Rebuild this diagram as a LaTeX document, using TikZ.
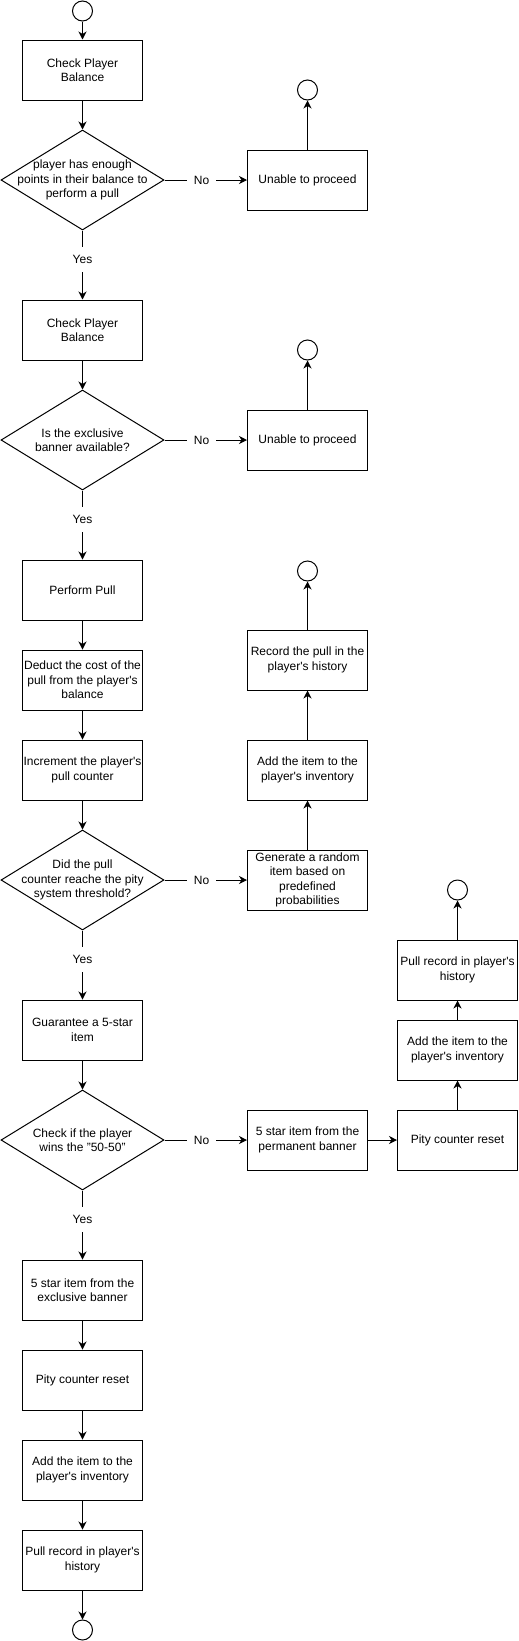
\documentclass[tikz,border=0pt]{standalone}
\usepackage{fontspec}
\setmainfont{Liberation Sans}
\usetikzlibrary{arrows.meta,shapes.geometric}
\def\ap{\textquotesingle}
\tikzset{
	box/.style={draw, line width=1pt, minimum width=120pt, minimum height=60pt, inner sep=1pt, align=center, font=\fontsize{12}{14.5}\selectfont},
	dec/.style={draw, line width=1pt, diamond, minimum width=163pt, minimum height=100pt, inner sep=0pt},
	dectxt/.style={align=center, inner sep=0pt, font=\fontsize{12}{14.5}\selectfont},
	term/.style={draw, line width=1pt, circle, minimum size=20pt, inner sep=0pt},
	flow/.style={line width=1pt, -{Stealth[length=8pt,width=8pt,inset=2.5pt]}},
	lbl/.style={fill=white, inner xsep=7pt, inner ysep=8pt, font=\fontsize{12}{14.5}\selectfont}
}

\begin{document}
\begin{tikzpicture}[x=1pt, y=-1pt]
		%%%%% START %%%%%
		\useasboundingbox (0, 0) rectangle (519, 1641);
		
		% main column
		\node[term] (s0) at (82.5, 11) {};
		\node[box] (b1) at (82.5, 70) {Check Player\\Balance};
		\node[dec, label={[dectxt]center:{player has enough\\points in their balance to\\perform a pull}}] (d1) at (82.5, 180) {};
		\node[box] (b2) at (82.5, 330) {Check Player\\Balance};
		\node[dec, label={[dectxt]center:{Is the exclusive\\banner available?}}] (d2) at (82.5, 440) {};
		\node[box] (b3) at (82.5, 590) {Perform Pull};
		\node[box] (b4) at (82.5, 680) {Deduct the cost of the\\pull from the player\ap s\\balance};
		\node[box] (b5) at (82.5, 770) {Increment the player\ap s\\pull counter};
		\node[dec, label={[dectxt]center:{Did the pull\\counter reache the pity\\system threshold?}}] (d3) at (82.5, 880) {};
		\node[box] (b6) at (82.5, 1030) {Guarantee a 5-star\\item};
		\node[dec, label={[dectxt]center:{Check if the player\\wins the "50-50"}}] (d4) at (82.5, 1140) {};
		\node[box] (b7) at (82.5, 1290) {5 star item from the\\exclusive banner};
		\node[box] (b8) at (82.5, 1380) {Pity counter reset};
		\node[box] (b9) at (82.5, 1470) {Add the item to the\\player\ap s inventory};
		\node[box] (b10) at (82.5, 1560) {Pull record in player\ap s\\history};
		\node[term] (e5) at (82.5, 1630) {};
		
		% second column
		\node[box] (u1) at (307.5, 180) {Unable to proceed};
		\node[term] (e1) at (307.5, 90) {};
		\node[box] (u2) at (307.5, 440) {Unable to proceed};
		\node[term] (e2) at (307.5, 350) {};
		\node[box] (g1) at (307.5, 880) {Generate a random\\item based on\\predefined\\probabilities};
		\node[box] (a1) at (307.5, 770) {Add the item to the\\player\ap s inventory};
		\node[box] (r1) at (307.5, 660) {Record the pull in the\\player\ap s history};
		\node[term] (e3) at (307.5, 571) {};
		\node[box] (p5) at (307.5, 1140) {5 star item from the\\permanent banner};
		
		% third column
		\node[box] (pr) at (457.5, 1140) {Pity counter reset};
		\node[box] (ar) at (457.5, 1050) {Add the item to the\\player\ap s inventory};
		\node[box] (hr) at (457.5, 970) {Pull record in player\ap s\\history};
		\node[term] (e4) at (457.5, 890) {};
		
		% connectors
		\draw[flow] (s0) -- (b1);
		\draw[flow] (b1) -- (d1);
		\draw[flow] (d1.east) -- node[lbl, pos=0.45] {No} (u1);
		\draw[flow] (u1) -- (e1);
		\draw[flow] (d1.south) -- node[lbl, pos=0.42] {Yes} (b2);
		\draw[flow] (b2) -- (d2);
		\draw[flow] (d2.east) -- node[lbl, pos=0.45] {No} (u2);
		\draw[flow] (u2) -- (e2);
		\draw[flow] (d2.south) -- node[lbl, pos=0.42] {Yes} (b3);
		\draw[flow] (b3) -- (b4);
		\draw[flow] (b4) -- (b5);
		\draw[flow] (b5) -- (d3);
		\draw[flow] (d3.east) -- node[lbl, pos=0.45] {No} (g1);
		\draw[flow] (g1) -- (a1);
		\draw[flow] (a1) -- (r1);
		\draw[flow] (r1) -- (e3);
		\draw[flow] (d3.south) -- node[lbl, pos=0.42] {Yes} (b6);
		\draw[flow] (b6) -- (d4);
		\draw[flow] (d4.east) -- node[lbl, pos=0.45] {No} (p5);
		\draw[flow] (p5) -- (pr);
		\draw[flow] (pr) -- (ar);
		\draw[flow] (ar) -- (hr);
		\draw[flow] (hr) -- (e4);
		\draw[flow] (d4.south) -- node[lbl, pos=0.42] {Yes} (b7);
		\draw[flow] (b7) -- (b8);
		\draw[flow] (b8) -- (b9);
		\draw[flow] (b9) -- (b10);
		\draw[flow] (b10) -- (e5);
		%%%%% END %%%%%
	\end{tikzpicture}
\end{document}
